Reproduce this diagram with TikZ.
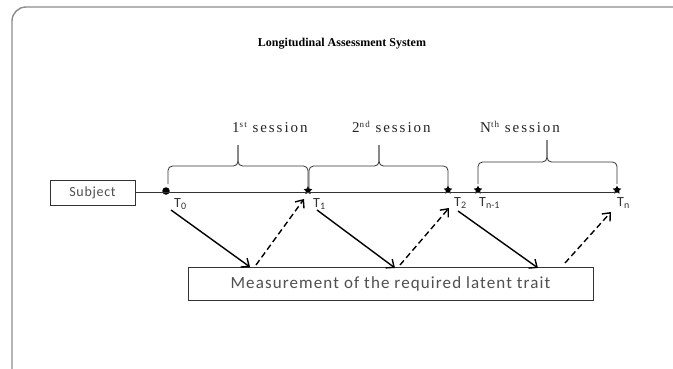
\documentclass[tikz,border=0pt]{standalone}
\usepackage{fontspec}
\setmainfont{Liberation Serif}
\newfontfamily\sansfnt[LetterSpace=5]{Carlito}
\newfontfamily\measfnt[LetterSpace=6.5]{Carlito}
\newfontfamily\tfnt{Carlito}
\newfontfamily\sessfnt[LetterSpace=13]{Liberation Serif}
\usetikzlibrary{arrows.meta,shapes.geometric}
\definecolor{framegray}{HTML}{8C8C8C}
\definecolor{txtgray}{HTML}{505050}
\definecolor{linegray}{HTML}{333333}
\newcommand{\sessup}[1]{\raisebox{5pt}{\fontsize{9}{9}\selectfont #1}}
\newcommand{\tsub}[1]{\raisebox{-2.5pt}{\fontsize{10}{10}\selectfont #1}}
\begin{document}
\begin{tikzpicture}[x=1pt,y=-1pt,
  frame/.style={draw=framegray,line width=1.4pt,rounded corners=14pt},
  box/.style={draw=linegray,line width=0.8pt,inner sep=0pt},
  timeline/.style={draw=linegray,line width=0.9pt},
  bracestyle/.style={draw=linegray,line width=0.8pt,rounded corners=4.5pt},
  solidarrow/.style={draw=black,line width=1.4pt,-{Straight Barb[length=6.5pt,width=11pt,line width=1.4pt]}},
  dasharrow/.style={solidarrow,dash pattern=on 6pt off 3.5pt},
  dotnode/.style={circle,fill=black,inner sep=0pt,minimum size=7.5pt},
  starnode/.style={star,star points=5,star point ratio=2.0,fill=black,inner sep=0pt,minimum size=9pt},
  tlabel/.style={font=\tfnt\fontsize{14}{14}\selectfont,text=black!80,inner sep=0pt,anchor=north west},
  sesslabel/.style={font=\sessfnt\fontsize{15}{15}\selectfont,text=black!85,inner sep=0pt,anchor=base west},
]
\useasboundingbox (0,0) rectangle (673,368);
\fill[white] (0,0) rectangle (673,368);
% frame
\draw[frame] (12,380) -- (12,7) -- (690,7);
% title
\node[font=\bfseries\fontsize{12}{12}\selectfont,inner sep=0pt] (title) at (342,44) {Longitudinal Assessment System};
% subject box
\node[box,minimum width=85pt,minimum height=25pt,font=\sansfnt\fontsize{14}{14}\selectfont,text=txtgray] (subj) at (92.5,192.5) {Subject};
% time points
\node[dotnode] (t0) at (166,191) {};
\node[starnode] (t1) at (308,190.5) {};
\node[starnode] (t2) at (448,190) {};
\node[starnode] (tn1) at (478,190) {};
\node[starnode] (tn) at (617,190) {};
\draw[timeline] (subj.east) -- (tn.center |- subj.east);
% time labels
\node[tlabel] (l0) at (174,198) {T\tsub{0}};
\node[tlabel] (l1) at (313,198) {T\tsub{1}};
\node[tlabel] (l2) at (454,197) {T\tsub{2}};
\node[tlabel] (ln1) at (479,197) {T\tsub{n-1}};
\node[tlabel] (ln) at (617,197) {T\tsub{n}};
% braces
\draw[bracestyle] (168,184) |- (238,166) -- (238,145);
\draw[bracestyle] (308,189) |- (238,166) -- (238,145);
\draw[bracestyle] (309,189) |- (379,166) -- (379,145);
\draw[bracestyle] (448,187) |- (379,166) -- (379,145);
\draw[bracestyle] (478,184) |- (547,162) -- (547,140);
\draw[bracestyle] (617,184) |- (547,162) -- (547,140);
% session labels
\node[sesslabel] (s1) at (232,132) {1\sessup{st} session};
\node[sesslabel] (s2) at (352,132) {2\sessup{nd} session};
\node[sesslabel] (sn) at (480,132) {N\sessup{th} session};
% measurement box
\node[box,minimum width=405pt,minimum height=33pt,font=\measfnt\fontsize{17}{17}\selectfont,text=txtgray] (meas) at (390.5,283.5) {Measurement of the required latent trait};
% arrow end points
\coordinate (a1s) at (171,210);
\coordinate (a1e) at (250,267);
\coordinate (d1s) at (256,265);
\coordinate (d1e) at (304,199);
\coordinate (a2s) at (317,210);
\coordinate (a2e) at (395,268);
\coordinate (d2s) at (400,265);
\coordinate (d2e) at (449,208);
\coordinate (a3s) at (458,211);
\coordinate (a3e) at (538,268);
\coordinate (d3s) at (565,263);
\coordinate (d3e) at (611,212);
\draw[solidarrow] (a1s) -- (a1e);
\draw[dasharrow] (d1s) -- (d1e);
\draw[solidarrow] (a2s) -- (a2e);
\draw[dasharrow] (d2s) -- (d2e);
\draw[solidarrow] (a3s) -- (a3e);
\draw[dasharrow] (d3s) -- (d3e);
\end{tikzpicture}
\end{document}
